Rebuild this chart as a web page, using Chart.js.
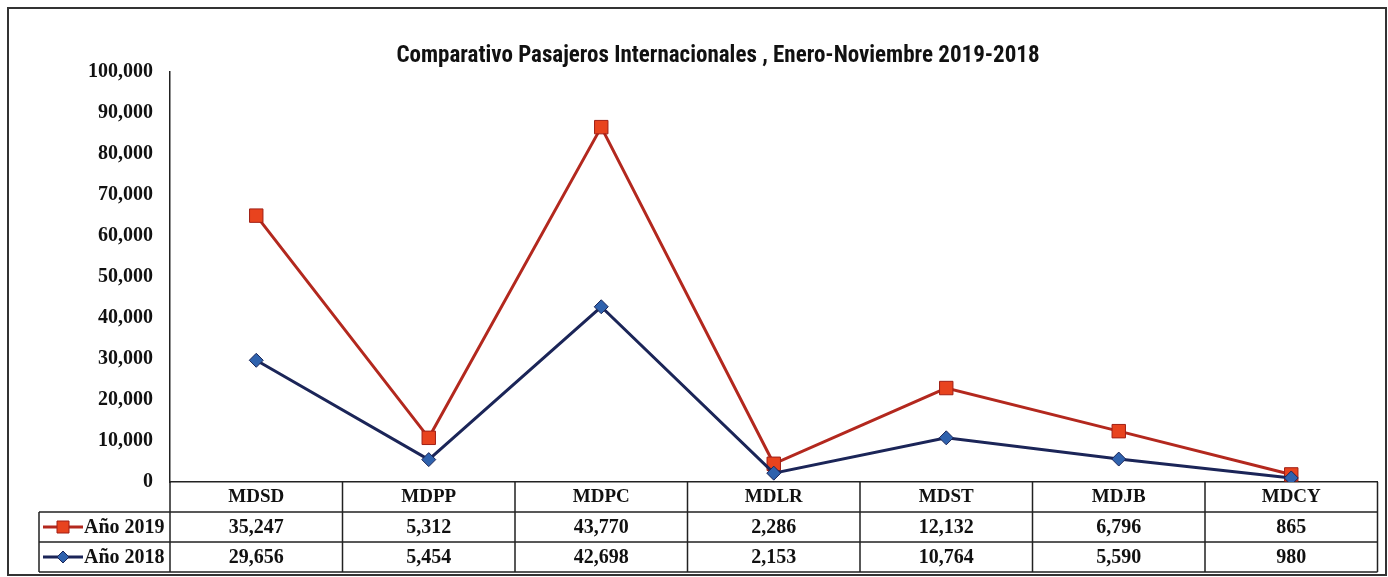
<!DOCTYPE html>
<html>
<head>
<meta charset="utf-8">
<script src="https://cdn.jsdelivr.net/npm/chart.js@4.4.0/dist/chart.umd.min.js"></script>
<style>
  html, body { margin: 0; padding: 0; background: #fff; }
  #wrap { position: relative; width: 1388px; height: 577px; }
</style>
</head>
<body>
<div id="wrap"><canvas id="chart" width="1388" height="577"></canvas></div>
<script>
// data
const airports = ['MDSD', 'MDPP', 'MDPC', 'MDLR', 'MDST', 'MDJB', 'MDCY'];
const year2019 = [35247, 5312, 43770, 2286, 12132, 6796, 865];
const year2018 = [29656, 5454, 42698, 2153, 10764, 5590, 980];
const titleText = 'Comparativo Pasajeros Internacionales , Enero-Noviembre 2019-2018';

const serif = "'Liberation Serif', 'DejaVu Serif', serif";
const fmt = v => v.toLocaleString('en-US');

const red = { line: '#b3281e', fill: '#e8431e', edge: '#a11f15' };
const blue = { line: '#1b2558', fill: '#2f62ad', edge: '#1b2558' };

// table rows in the order the original shows them
const rows = [
  { label: 'Año 2019', values: year2019, c: red, shape: 'rect' },
  { label: 'Año 2018', values: year2018, c: blue, shape: 'diamond' }
];

function marker(ctx, shape, c, x, y) {
  ctx.fillStyle = c.fill;
  ctx.strokeStyle = c.edge;
  ctx.lineWidth = 1;
  ctx.beginPath();
  if (shape === 'rect') {
    ctx.rect(x - 6, y - 6, 12, 12);
  } else {
    ctx.moveTo(x, y - 6); ctx.lineTo(x + 6, y); ctx.lineTo(x, y + 6); ctx.lineTo(x - 6, y);
    ctx.closePath();
  }
  ctx.fill();
  ctx.stroke();
}

const tablePlugin = {
  id: 'dataTable',
  afterDraw(chart) {
    const { ctx, chartArea } = chart;
    const x = chart.scales.x;
    const rowH = 30;
    const top = chartArea.bottom;
    const left = chartArea.left, right = chartArea.right;
    const colW = (right - left) / airports.length;
    const legendLeft = 39;

    ctx.save();
    ctx.strokeStyle = '#222';
    ctx.lineWidth = 1.5;
    ctx.beginPath();
    for (let r = 1; r <= 3; r++) {
      ctx.moveTo(legendLeft, top + r * rowH);
      ctx.lineTo(right, top + r * rowH);
    }
    for (let i = 0; i <= airports.length; i++) {
      ctx.moveTo(left + i * colW, top);
      ctx.lineTo(left + i * colW, top + 3 * rowH);
    }
    ctx.moveTo(legendLeft, top + rowH);
    ctx.lineTo(legendLeft, top + 3 * rowH);
    ctx.stroke();

    ctx.font = 'bold 20px ' + serif;
    ctx.textBaseline = 'middle';
    rows.forEach((row, r) => {
      const y = top + rowH * (r + 1.5);
      ctx.fillStyle = '#111';
      ctx.textAlign = 'center';
      row.values.forEach((v, i) => ctx.fillText(fmt(v), x.getPixelForValue(i), y + 1));
      // legend key
      ctx.strokeStyle = row.c.line;
      ctx.lineWidth = 3;
      ctx.beginPath();
      ctx.moveTo(43, y); ctx.lineTo(83, y);
      ctx.stroke();
      marker(ctx, row.shape, row.c, 63, y);
      ctx.fillStyle = '#111';
      ctx.textAlign = 'left';
      ctx.fillText(row.label, 84, y + 1);
    });

    // outer frame
    ctx.strokeStyle = '#333';
    ctx.lineWidth = 2;
    ctx.strokeRect(8, 8, 1378, 567);
    ctx.restore();
  }
};

new Chart(document.getElementById('chart'), {
  type: 'line',
  data: {
    labels: airports,
    datasets: [
      {
        label: 'Año 2018',
        data: year2018,
        borderColor: blue.line,
        backgroundColor: blue.fill,
        pointBorderColor: blue.edge,
        pointStyle: 'rectRot',
        pointRadius: 7,
        pointBorderWidth: 1,
        borderWidth: 3,
        tension: 0
      },
      {
        label: 'Año 2019',
        data: year2019,
        borderColor: red.line,
        backgroundColor: red.fill,
        pointBorderColor: red.edge,
        pointStyle: 'rect',
        pointRadius: 9.5,
        pointBorderWidth: 1,
        borderWidth: 3,
        tension: 0
      }
    ]
  },
  options: {
    responsive: false,
    animation: false,
    devicePixelRatio: 1,
    layout: { padding: { top: 0, right: 6, bottom: 0, left: 54 } },
    plugins: {
      legend: { display: false },
      tooltip: { enabled: false },
      title: {
        display: true,
        text: titleText,
        color: '#111',
        font: { family: "'Liberation Sans Narrow', 'Roboto Condensed', Roboto, sans-serif", size: 23, weight: 'bold' },
        padding: { top: 42, bottom: 2 }
      }
    },
    scales: {
      x: {
        offset: true,
        grid: { display: false, drawTicks: false },
        border: { display: true, color: '#222', width: 1.5 },
        ticks: { padding: 4, color: '#111', font: { family: serif, size: 19, weight: 'bold' } },
        afterFit(s) { s.height = 95; }
      },
      y: {
        stacked: true,
        min: 0,
        max: 100000,
        grid: { display: false, drawTicks: false },
        border: { display: true, color: '#222', width: 1.5 },
        ticks: {
          stepSize: 10000,
          padding: 17,
          color: '#111',
          font: { family: serif, size: 20, weight: 'bold' },
          callback: v => fmt(v)
        },
        afterFit(s) { s.width = 116; }
      }
    }
  },
  plugins: [tablePlugin]
});
</script>
</body>
</html>
